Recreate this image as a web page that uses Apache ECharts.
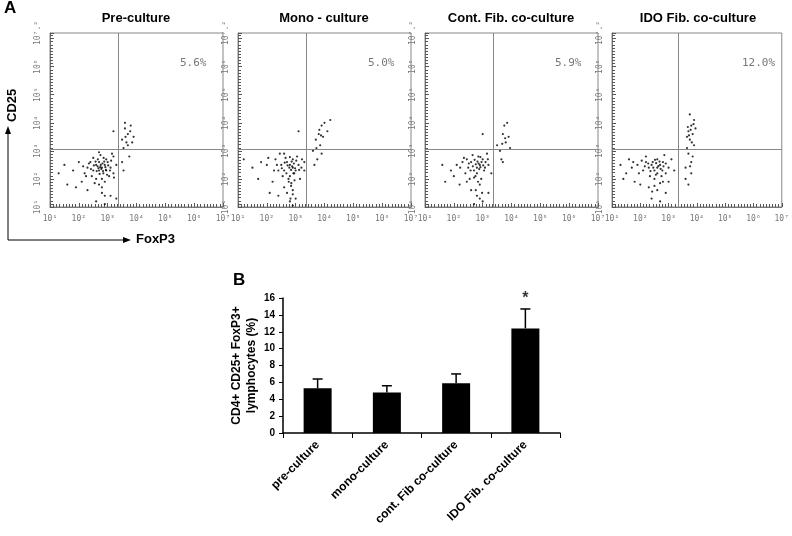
<!DOCTYPE html>
<html><head><meta charset="utf-8">
<script src="https://cdn.jsdelivr.net/npm/echarts@6/dist/echarts.min.js"></script>
<style>html,body{margin:0;background:#fff}#main{width:792px;height:536px}</style>
</head><body><div id="main"></div>
<script>
// panel A: flow plots, values are log10 exponents [FoxP3, CD25]
var panelTitles = ['Pre-culture', 'Mono - culture', 'Cont. Fib. co-culture', 'IDO Fib. co-culture'];
var panelPct = ['5.6%', '5.0%', '5.9%', '12.0%'];
var gateX = 3.35, gateY = 3.05;
var preCulture = [[2.8,2.4],[2.9,2.5],[2.7,2.3],[3.0,2.6],[2.6,2.5],[2.85,2.2],[3.1,2.4],[2.5,2.3],[2.95,2.7],[2.7,2.6],[3.05,2.1],[2.4,2.6],[2.6,2.0],[2.9,1.9],[2.3,2.4],[3.2,2.8],[2.2,2.2],[2.0,2.6],[1.8,2.3],[1.5,2.5],[1.3,2.2],[1.9,1.7],[2.3,1.6],[2.8,1.5],[2.6,1.2],[2.9,1.1],[3.1,1.4],[3.3,1.3],[2.75,2.85],[3.15,2.9],[2.5,2.75],[2.1,1.9],[2.95,2.3],[2.65,2.45],[2.8,2.0],[3.2,2.2],[3.3,2.5],[2.45,2.1],[1.6,1.8],[2.7,1.8],
  [2.82,2.55],[2.78,2.35],[2.92,2.42],[2.68,2.38],[2.88,2.62],[3.02,2.48],[2.58,2.62],[2.72,2.18],[2.98,2.15],[2.62,2.28],[2.86,2.75],[3.12,2.65],[2.52,2.48],[2.76,2.5],[2.94,2.32],[2.42,2.35],[2.35,2.55],[3.08,2.3],[2.66,2.7],[2.8,1.7],[2.9,1.4],[2.55,1.85],[2.25,2.1],[2.15,2.45],[3.22,2.05],[2.7,2.95],[2.84,2.28],[2.74,2.42],
  [3.5,3.4],[3.6,3.8],[3.7,3.6],[3.55,3.1],[3.8,3.9],[3.65,3.3],[3.75,2.8],[3.5,2.6],[3.9,3.5],[3.6,4.0],[3.2,3.7],[3.7,3.2],[3.78,3.7],[3.62,3.5],[3.85,3.3],[3.55,2.3]];
var monoCulture = [[2.9,2.4],[2.8,2.5],[3.0,2.3],[2.7,2.6],[3.1,2.5],[2.6,2.3],[2.9,2.7],[2.8,2.1],[3.05,2.8],[2.5,2.5],[2.75,2.0],[3.2,2.4],[2.4,2.3],[2.3,2.7],[2.0,2.5],[1.8,2.6],[1.5,2.4],[1.2,2.7],[2.2,1.9],[2.6,1.7],[2.9,1.6],[3.0,1.3],[2.8,1.2],[2.9,1.05],[3.3,2.6],[2.4,1.4],[2.1,1.5],[1.7,2.0],[2.95,2.2],[2.65,2.75],[2.85,1.85],[3.15,2.0],[2.55,2.1],[3.3,2.3],[2.7,1.5],[2.45,2.9],
  [2.88,2.45],[2.84,2.32],[2.94,2.55],[2.78,2.4],[2.98,2.38],[2.72,2.48],[2.86,2.62],[2.92,2.2],[2.68,2.2],[3.02,2.65],[2.62,2.58],[2.8,2.78],[3.12,2.32],[2.52,2.38],[2.96,1.95],[2.76,1.9],[2.84,1.75],[2.9,1.45],[2.82,1.3],[2.35,2.5],[2.25,2.3],[3.22,2.7],[2.6,2.9],[2.05,2.75],
  [3.8,3.6],[3.9,3.9],[3.7,3.4],[3.85,3.2],[4.0,4.0],[3.6,3.0],[3.95,3.5],[3.75,2.7],[4.1,3.7],[3.65,2.5],[4.2,4.1],[3.9,2.9],[3.1,3.7],[3.88,3.55],[3.82,3.75],[3.72,3.1]];
var contCoculture = [[2.9,2.5],[2.8,2.4],[3.0,2.7],[2.7,2.3],[3.1,2.6],[2.6,2.6],[2.85,2.8],[2.75,2.1],[3.05,2.3],[2.5,2.4],[2.95,2.0],[3.2,2.5],[2.4,2.2],[2.3,2.6],[2.1,2.5],[1.9,2.3],[1.6,2.5],[2.2,1.8],[2.6,1.6],[2.8,1.4],[3.0,1.2],[2.7,1.1],[3.2,1.5],[2.45,1.9],[2.0,2.1],[2.65,2.85],[3.15,2.9],[2.55,2.0],[3.3,2.2],[2.9,1.8],[2.35,2.75],[1.7,1.9],
  [2.86,2.55],[2.82,2.62],[2.92,2.42],[2.76,2.52],[2.96,2.6],[2.72,2.68],[2.88,2.35],[3.02,2.48],[2.66,2.45],[2.8,2.2],[2.92,2.78],[3.08,2.4],[2.58,2.3],[2.7,2.05],[2.84,1.9],[2.76,1.6],[2.98,1.5],[2.52,2.55],[2.22,2.4],[3.18,2.7],[2.45,2.7],[2.9,1.3],
  [3.7,3.6],[3.8,3.3],[3.6,3.0],[3.75,3.9],[3.9,3.5],[3.65,2.7],[3.85,4.0],[3.5,3.2],[3.95,3.1],[3.7,2.6],[3.0,3.6],[3.78,3.45],[3.68,3.25]];
var idoCoculture = [[2.6,2.4],[2.7,2.5],[2.5,2.3],[2.8,2.6],[2.4,2.5],[2.9,2.2],[2.3,2.4],[2.6,2.7],[3.0,2.4],[2.2,2.6],[2.5,2.0],[2.75,2.1],[2.1,2.3],[1.9,2.5],[1.7,2.4],[1.5,2.2],[1.3,2.5],[1.4,2.0],[2.0,1.8],[2.3,1.7],[2.6,1.6],[2.9,1.5],[2.4,1.3],[2.7,1.2],[3.1,2.7],[2.85,2.85],[1.8,1.9],[2.2,2.8],[3.2,2.3],[2.55,2.15],[1.6,2.7],[3.0,1.9],
  [2.64,2.46],[2.56,2.56],[2.72,2.36],[2.46,2.4],[2.68,2.62],[2.82,2.45],[2.36,2.28],[2.52,2.68],[2.78,2.3],[2.44,2.6],[2.6,2.2],[2.9,2.55],[2.28,2.55],[2.16,2.45],[2.34,2.1],[2.7,1.85],[2.5,1.75],[1.95,2.2],[1.75,2.6],[2.05,2.65],[2.8,1.9],[2.42,1.55],
  [3.7,3.7],[3.8,3.9],[3.75,3.4],[3.9,4.1],[3.65,3.1],[3.85,3.6],[3.7,2.9],[3.8,2.6],[3.6,2.4],[3.9,3.2],[3.75,4.3],[3.95,3.8],[3.6,2.0],[3.7,1.8],[3.8,2.2],[3.65,3.5],[3.85,2.8],[3.78,3.75],[3.72,3.55],[3.88,3.95],[3.82,3.3],[3.68,3.85],[3.76,2.45]];
var panelData = [preCulture, monoCulture, contCoculture, idoCoculture];
var panelLeft = [50, 238, 425, 612];

// panel B: bar chart
var barCats = ['pre-culture', 'mono-culture', 'cont. Fib co-culture', 'IDO Fib. co-culture'];
var barMeans = [5.3, 4.8, 5.9, 12.4];
var barErrors = [1.1, 0.8, 1.1, 2.3];

var sup = {'1':'¹','2':'²','3':'³','4':'⁴','5':'⁵','6':'⁶','7':'⁷','.':'.'};
function expLabel(v){
  var s = v > 7 ? '7.2' : String(Math.round(v));
  return '10' + s.split('').map(function(c){return sup[c];}).join('');
}

var grids = [], xAxes = [], yAxes = [], series = [], graphics = [];
panelData.forEach(function(pts, i){
  grids.push({left: panelLeft[i], top: 33, width: 173, height: 174, show:true, borderColor:'#888', borderWidth:1});
  xAxes.push({type:'value', gridIndex:i, min:1, max:7, interval:1,
    axisLine:{show:true, lineStyle:{color:'#777'}}, axisTick:{inside:true, length:4, lineStyle:{color:'#555'}},
    minorTick:{show:true, splitNumber:9, length:3, lineStyle:{color:'#555'}},
    splitLine:{show:false},
    axisLabel:{fontFamily:'DejaVu Sans Mono', fontSize:8, color:'#777', formatter:expLabel}});
  yAxes.push({type:'value', gridIndex:i, min:1, max:7.2, interval:1,
    axisLine:{show:true, lineStyle:{color:'#777'}}, axisTick:{inside:true, length:4, lineStyle:{color:'#555'}},
    minorTick:{show:true, splitNumber:9, length:3, lineStyle:{color:'#555'}},
    splitLine:{show:false},
    axisLabel:{fontFamily:'DejaVu Sans Mono', fontSize:8, color:'#777', rotate:90, showMaxLabel:true, hideOverlap:false,
      formatter:expLabel}});
  series.push({type:'scatter', xAxisIndex:i, yAxisIndex:i, data:pts, symbolSize:2.2,
    itemStyle:{color:'#000'}, silent:true,
    markLine:{silent:true, symbol:'none', label:{show:false}, lineStyle:{color:'#888', type:'solid', width:1},
      data:[{xAxis:gateX},{yAxis:gateY}]}});
  graphics.push({type:'text', x: panelLeft[i] + 86, y: 12,
    style:{text: panelTitles[i], font:'bold 13px Arial', fill:'#000', textAlign:'center'}});
  graphics.push({type:'text', x: panelLeft[i] + 130, y: 58,
    style:{text: panelPct[i], font:'11px "DejaVu Sans Mono"', fill:'#777'}});
});

// bar chart grid
var bi = 4;
grids.push({left: 283, top: 298, width: 277, height: 135});
xAxes.push({type:'category', gridIndex:bi, data:barCats,
  axisLine:{lineStyle:{color:'#000', width:1.5}}, axisTick:{show:true, length:5, lineStyle:{color:'#000'}},
  axisLabel:{rotate:45, color:'#000', fontFamily:'Arial', fontWeight:'bold', fontSize:12, margin:10}});
yAxes.push({type:'value', gridIndex:bi, min:0, max:16, interval:2,
  axisLine:{show:true, lineStyle:{color:'#000', width:1.5}}, axisTick:{show:true, length:4, lineStyle:{color:'#000'}},
  splitLine:{show:false},
  axisLabel:{color:'#000', fontFamily:'Arial', fontWeight:'bold', fontSize:10},
  name:'CD4+ CD25+ FoxP3+\nlymphocytes (%)', nameLocation:'middle', nameGap:24,
  nameTextStyle:{color:'#000', fontFamily:'Arial', fontWeight:'bold', fontSize:12, lineHeight:15}});
series.push({type:'bar', xAxisIndex:bi, yAxisIndex:bi, data:barMeans, barWidth:28,
  itemStyle:{color:'#000'}, silent:true, z:2});
series.push({type:'custom', xAxisIndex:bi, yAxisIndex:bi, silent:true, z:1,
  data: barMeans.map(function(m, k){ return [k, m, m + barErrors[k]]; }),
  renderItem:function(params, api){
    var lo = api.coord([api.value(0), api.value(1)]);
    var hi = api.coord([api.value(0), api.value(2)]);
    var st = {stroke:'#000', lineWidth:1.5};
    return {type:'group', children:[
      {type:'line', shape:{x1:lo[0], y1:lo[1], x2:hi[0], y2:hi[1]}, style:st},
      {type:'line', shape:{x1:hi[0]-5, y1:hi[1], x2:hi[0]+5, y2:hi[1]}, style:st}]};
  }});
series.push({type:'scatter', xAxisIndex:bi, yAxisIndex:bi, symbolSize:0, silent:true,
  data:[[3, barMeans[3] + barErrors[3] + 1.2]],
  label:{show:true, formatter:'*', color:'#000', fontSize:16, fontWeight:'bold', position:'inside'}});

graphics.push({type:'text', left:4, top:0, style:{text:'A', font:'bold 17px Arial', fill:'#000'}});
graphics.push({type:'text', left:233, top:272, style:{text:'B', font:'bold 17px Arial', fill:'#000'}});
graphics.push({type:'polyline', shape:{points:[[8,130],[8,240],[125,240]]}, style:{stroke:'#000', lineWidth:1, fill:null}});
graphics.push({type:'polygon', shape:{points:[[5,134],[11,134],[8,126]]}, style:{fill:'#000'}});
graphics.push({type:'polygon', shape:{points:[[123,237],[123,243],[131,240]]}, style:{fill:'#000'}});
graphics.push({type:'text', left:136, top:233, style:{text:'FoxP3', font:'bold 13px Arial', fill:'#000'}});
graphics.push({type:'text', x:6, y:122, rotation:Math.PI/2, style:{text:'CD25', font:'bold 13px Arial', fill:'#000', textAlign:'left', textVerticalAlign:'top'}});

var myChart = echarts.init(document.getElementById('main'));
myChart.setOption({animation:false, grid:grids, xAxis:xAxes, yAxis:yAxes, series:series, graphic:graphics});
</script></body></html>
